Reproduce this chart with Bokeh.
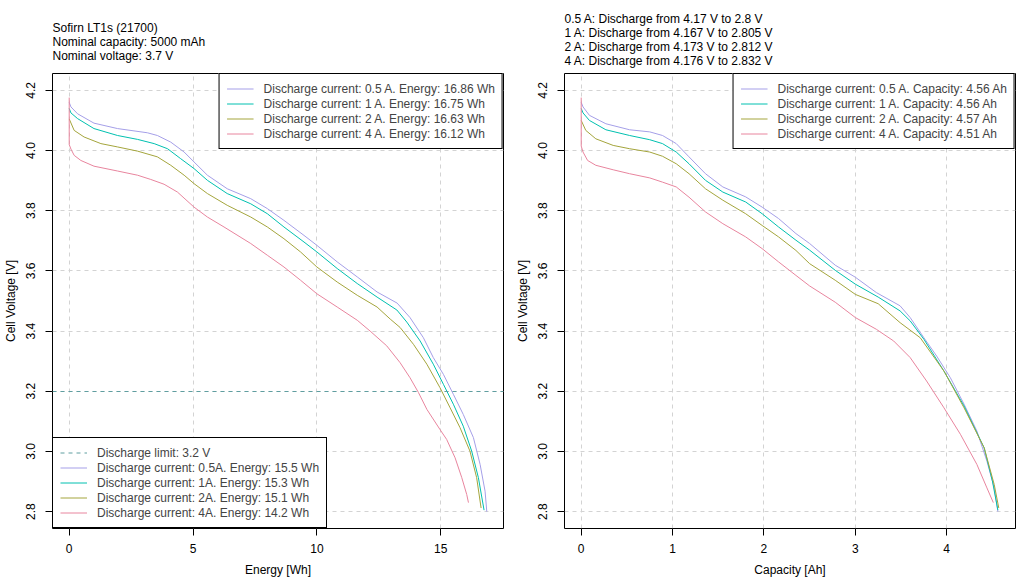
from bokeh.plotting import figure
from bokeh.layouts import row
from bokeh.models import Range1d, FixedTicker, NumeralTickFormatter, Legend, LegendItem
from bokeh.embed import file_html
from bokeh.resources import INLINE

FONT = "Liberation Sans"

# --- data ---
currents = ["0.5", "1", "2", "4"]
colors = ["#A59FE8", "#00C0B0", "#A4A53C", "#E8859E"]
limit_v = 3.2
limit_color = "#5F9EA0"

energy_total = ["16.86", "16.75", "16.63", "16.12"]
energy_to_limit = ["15.5", "15.3", "15.1", "14.2"]
capacity_total = ["4.56", "4.56", "4.57", "4.51"]
v_start = ["4.17", "4.167", "4.173", "4.176"]
v_end = ["2.8", "2.805", "2.812", "2.832"]

# energy [Wh] vs voltage
e_05 = [0, 0.07, 0.34, 1.0, 1.95, 3.16, 3.56, 4.1, 4.64, 5.04, 5.58, 6.38, 7.33,
        8.0, 8.67, 9.48, 10.0, 10.82, 11.63, 12.43, 13.24, 13.76, 14.3, 14.7,
        15.11, 15.51, 15.91, 16.32, 16.59, 16.79, 16.86]
ve_05 = [4.16, 4.145, 4.122, 4.091, 4.073, 4.059, 4.050, 4.028, 3.995, 3.962,
         3.918, 3.873, 3.840, 3.807, 3.768, 3.718, 3.685, 3.630, 3.580, 3.530,
         3.493, 3.445, 3.378, 3.312, 3.256, 3.190, 3.123, 3.046, 2.957, 2.868, 2.80]
e_1 = [0, 0.07, 0.34, 1.0, 1.95, 2.76, 3.43, 3.97, 4.5, 5.04, 5.58, 6.38, 7.33,
       8.0, 8.67, 9.48, 10.0, 10.82, 11.63, 12.43, 13.23, 13.63, 14.17, 14.70,
       15.11, 15.51, 15.91, 16.25, 16.52, 16.75]
ve_1 = [4.14, 4.125, 4.106, 4.073, 4.05, 4.037, 4.023, 4.006, 3.973, 3.940,
        3.901, 3.857, 3.823, 3.790, 3.746, 3.696, 3.663, 3.608, 3.558, 3.513,
        3.470, 3.430, 3.367, 3.290, 3.223, 3.157, 3.084, 3.001, 2.913, 2.805]
e_2 = [0, 0.2, 0.6, 1.28, 1.95, 2.76, 3.56, 4.1, 4.64, 5.04, 5.58, 6.38, 7.33,
       8.0, 8.67, 9.34, 10.0, 10.82, 11.63, 12.43, 12.96, 13.36, 13.9, 14.44,
       14.97, 15.38, 15.78, 16.18, 16.45, 16.63]
ve_2 = [4.105, 4.067, 4.045, 4.023, 4.012, 3.998, 3.979, 3.951, 3.918, 3.890,
        3.857, 3.818, 3.779, 3.746, 3.707, 3.663, 3.613, 3.563, 3.519, 3.480,
        3.440, 3.412, 3.356, 3.290, 3.212, 3.145, 3.079, 3.001, 2.913, 2.812]
e_4 = [0, 0, 0.07, 0.2, 0.47, 1.0, 1.95, 2.76, 3.29, 3.83, 4.37, 5.04, 5.58,
       6.25, 7.33, 8.0, 8.67, 9.34, 10.0, 10.82, 11.63, 12.15, 12.82, 13.36,
       13.76, 14.10, 14.44, 14.97, 15.24, 15.58, 15.85, 16.05, 16.12]
ve_4 = [4.176, 4.02, 4.005, 3.984, 3.967, 3.948, 3.932, 3.918, 3.904, 3.888,
        3.862, 3.812, 3.779, 3.746, 3.691, 3.652, 3.613, 3.569, 3.524, 3.480,
        3.436, 3.400, 3.351, 3.295, 3.245, 3.196, 3.140, 3.073, 3.040, 2.979,
        2.913, 2.857, 2.830]

# capacity [Ah] vs voltage
c_05 = [0, 0.02, 0.09, 0.27, 0.53, 0.75, 0.89, 1.04, 1.18, 1.36, 1.55, 1.8, 1.98,
        2.16, 2.35, 2.5, 2.78, 3.0, 3.23, 3.49, 3.60, 3.75, 3.89, 4.04, 4.19,
        4.33, 4.44, 4.52, 4.56]
vc_05 = [4.16, 4.145, 4.117, 4.089, 4.069, 4.062, 4.050, 4.023, 3.979, 3.923,
         3.879, 3.846, 3.812, 3.774, 3.724, 3.691, 3.619, 3.579, 3.528, 3.484,
         3.445, 3.378, 3.317, 3.245, 3.157, 3.068, 2.968, 2.879, 2.80]
c_1 = [0, 0.02, 0.09, 0.27, 0.53, 0.75, 0.89, 1.04, 1.18, 1.36, 1.55, 1.8, 1.98,
       2.16, 2.35, 2.5, 2.78, 3.0, 3.25, 3.49, 3.60, 3.75, 3.97, 4.19, 4.41,
       4.50, 4.56]
vc_1 = [4.14, 4.125, 4.10, 4.069, 4.05, 4.036, 4.023, 3.995, 3.956, 3.901,
        3.862, 3.829, 3.790, 3.746, 3.702, 3.669, 3.602, 3.556, 3.513, 3.467,
        3.434, 3.373, 3.267, 3.151, 3.012, 2.902, 2.805]
c_2 = [0, 0.05, 0.16, 0.35, 0.53, 0.75, 0.89, 1.04, 1.18, 1.36, 1.55, 1.8, 1.98,
       2.16, 2.35, 2.5, 2.78, 3.0, 3.25, 3.49, 3.71, 3.97, 4.19, 4.41, 4.52, 4.57]
vc_2 = [4.10, 4.067, 4.039, 4.017, 4.006, 3.995, 3.981, 3.956, 3.923, 3.873,
        3.835, 3.790, 3.751, 3.713, 3.668, 3.624, 3.569, 3.522, 3.491, 3.428,
        3.378, 3.267, 3.145, 3.012, 2.890, 2.812]
c_4 = [0, 0, 0.02, 0.07, 0.16, 0.35, 0.53, 0.75, 0.89, 1.04, 1.18, 1.36, 1.55,
       1.8, 1.98, 2.16, 2.35, 2.5, 2.78, 3.0, 3.23, 3.42, 3.60, 3.78, 3.97, 4.15,
       4.33, 4.44, 4.51]
vc_4 = [4.176, 4.015, 3.995, 3.967, 3.951, 3.936, 3.923, 3.909, 3.895, 3.879,
        3.845, 3.796, 3.757, 3.713, 3.674, 3.630, 3.585, 3.550, 3.496, 3.445,
        3.406, 3.367, 3.312, 3.234, 3.145, 3.057, 2.957, 2.879, 2.83]

y_lim = (2.8, 4.2)
y_ticks = [2.8, 3.0, 3.2, 3.4, 3.6, 3.8, 4.0, 4.2]
e_ticks = [0, 5, 10, 15]
c_ticks = [0, 1, 2, 3, 4]

title_left = "Sofirn LT1s (21700)\nNominal capacity: 5000 mAh\nNominal voltage: 3.7 V"
title_right = "\n".join(f"{c} A: Discharge from {a} V to {b} V"
                        for c, a, b in zip(currents, v_start, v_end))


def padded(lo, hi):
    d = (hi - lo) * 0.04
    return Range1d(lo - d, hi + d)


def make_fig(xs, ys, x_ticks, x_label, title, standoff):
    x_max = max(max(x) for x in xs)
    p = figure(width=512, height=580, output_backend="svg", toolbar_location=None,
               x_range=padded(0, x_max), y_range=padded(*y_lim),
               min_border_left=51, min_border_right=9,
               min_border_top=73, min_border_bottom=52)
    p.title.text = title
    p.title.align = "left"
    p.title.text_font = FONT
    p.title.text_font_size = "12px"
    p.title.text_font_style = "normal"
    p.title.text_color = "black"
    p.title.text_line_height = 1.02
    p.title.standoff = standoff
    p.title.offset = 0

    p.outline_line_color = "black"
    p.outline_line_alpha = 1
    p.background_fill_color = "white"
    p.border_fill_color = "white"

    p.xaxis.ticker = FixedTicker(ticks=x_ticks)
    p.yaxis.ticker = FixedTicker(ticks=y_ticks)
    p.yaxis.formatter = NumeralTickFormatter(format="0.0")
    p.xaxis.axis_label = x_label
    p.yaxis.axis_label = "Cell Voltage [V]"
    p.yaxis.major_label_orientation = "vertical"
    for ax in (p.xaxis, p.yaxis):
        ax.axis_line_color = None
        ax.major_tick_out = 7
        ax.major_tick_in = 0
        ax.major_tick_line_color = "black"
        ax.minor_tick_line_color = None
        ax.major_label_text_font = FONT
        ax.major_label_text_font_size = "12px"
        ax.major_label_text_color = "black"
        ax.axis_label_text_font = FONT
        ax.axis_label_text_font_size = "12px"
        ax.axis_label_text_font_style = "normal"
        ax.axis_label_text_color = "black"
    p.xaxis.major_label_standoff = 8
    p.xaxis.axis_label_standoff = 7
    p.yaxis.major_label_standoff = 10
    p.yaxis.axis_label_standoff = 6

    p.grid.grid_line_color = "#d3d3d3"
    p.grid.grid_line_dash = "4 4"
    p.grid.grid_line_width = 1

    rs = []
    for x, y, col in zip(xs, ys, colors):
        rs.append(p.line(x, y, line_color=col, line_width=1))
    return p, rs


def make_legend(items, location):
    return Legend(items=items, location=location, margin=0, padding=7, spacing=0,
                  glyph_width=27, glyph_height=15, label_height=15, label_standoff=10,
                  label_text_font=FONT, label_text_font_size="12px",
                  border_line_color="black", border_line_width=1, border_line_alpha=1,
                  background_fill_color="white", background_fill_alpha=1)


# left: energy
p1, r1 = make_fig([e_05, e_1, e_2, e_4], [ve_05, ve_1, ve_2, ve_4], e_ticks,
                  "Energy [Wh]", title_left, 20)
r_lim = p1.hspan(y=[limit_v], line_color=limit_color, line_dash="4 4", line_width=1)
p1.add_layout(make_legend(
    [LegendItem(label=f"Discharge current: {c} A. Energy: {e} Wh", renderers=[r])
     for c, e, r in zip(currents, energy_total, r1)], "top_right"))
p1.add_layout(make_legend(
    [LegendItem(label=f"Discharge limit: {limit_v} V", renderers=[r_lim])] +
    [LegendItem(label=f"Discharge current: {c}A. Energy: {e} Wh", renderers=[r])
     for c, e, r in zip(currents, energy_to_limit, r1)], "bottom_left"))

# right: capacity
p2, r2 = make_fig([c_05, c_1, c_2, c_4], [vc_05, vc_1, vc_2, vc_4], c_ticks,
                  "Capacity [Ah]", title_right, 10)
p2.add_layout(make_legend(
    [LegendItem(label=f"Discharge current: {c} A. Capacity: {q} Ah", renderers=[r])
     for c, q, r in zip(currents, capacity_total, r2)], "top_right"))

p = row(p1, p2)
open("out.html", "w").write(file_html(p, INLINE))
